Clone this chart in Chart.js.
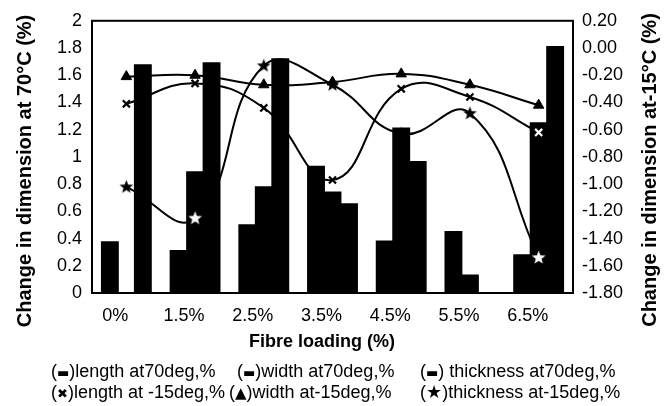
<!DOCTYPE html>
<html>
<head>
<meta charset="utf-8">
<script src="https://cdn.jsdelivr.net/npm/chart.js@4.4.1/dist/chart.umd.min.js"></script>
<style>
body { margin: 0; background: #fff; }
#wrap { position: relative; width: 668px; height: 406px; font-family: "Liberation Sans", Arial, sans-serif; }
#wrap canvas { position: absolute; left: 0; top: 0; }
.leg { position: absolute; font-size: 18px; line-height: 20px; color: #000; white-space: nowrap; }
.sym { font-family: "DejaVu Sans", sans-serif; font-size: 13px; }
.sym2 { font-family: "DejaVu Sans", sans-serif; font-size: 15px; }
.sym3 { font-family: "DejaVu Sans", sans-serif; font-size: 18px; line-height: 18px; }
</style>
</head>
<body>
<div id="wrap">
    <canvas id="myChart" width="668" height="406"></canvas>
    <div class="leg" style="left:51px; top:361px;">(<span class="sym">▬</span>)length at70deg,%</div>
    <div class="leg" style="left:237px; top:361px;">(<span class="sym">▬</span>)width at70deg,%</div>
    <div class="leg" style="left:420px; top:361px;">(<span class="sym">▬</span>) thickness at70deg,%</div>
    <div class="leg" style="left:51px; top:382px;">(<span class="sym">✖</span>)length at -15deg,%</div>
    <div class="leg" style="left:229px; top:382px;">(<span class="sym2">▲</span>)width at-15deg,%</div>
    <div class="leg" style="left:420px; top:382px;">(<span class="sym3">★</span>)thickness at-15deg,%</div>
</div>
<script>
// categories
let fibre_loading = ['0%', '1.5%', '2.5%', '3.5%', '4.5%', '5.5%', '6.5%'];

// change in dimension at 70 C (left axis, bars)
let length_70 = [0.375, 0.31, 0.50, 0.93, 0.38, 0.45, 0.28];
let width_70 = [0, 0.89, 0.78, 0.74, 1.21, 0.13, 1.25];
let thickness_70 = [1.675, 1.69, 1.72, 0.655, 0.965, 0, 1.81];

// change in dimension at -15 C (right axis, lines)
let length_m15 = [-0.41, -0.26, -0.44, -0.97, -0.30, -0.36, -0.62];
let width_m15 = [-0.21, -0.20, -0.27, -0.25, -0.19, -0.27, -0.42];
let thickness_m15 = [-1.02, -1.25, -0.13, -0.27, -0.63, -0.48, -1.54];

// markers that sit on a black bar are drawn white
let cross_white = [false, false, false, false, false, false, true];
let star_white = [false, true, false, false, false, false, true];

const font_family = '"Liberation Sans", Arial, sans-serif';

function make_star(color) {
    let c = document.createElement('canvas');
    c.width = 15;
    c.height = 15;
    let g = c.getContext('2d');
    g.fillStyle = color;
    g.beginPath();
    for (let i = 0; i < 10; i++) {
        let r = i % 2 === 0 ? 7.2 : 3.0;
        let a = -Math.PI / 2 + i * Math.PI / 5;
        let px = 7.5 + r * Math.cos(a);
        let py = 7.8 + r * Math.sin(a);
        if (i === 0) g.moveTo(px, py); else g.lineTo(px, py);
    }
    g.closePath();
    g.fill();
    return c;
}
let star_black = make_star('#000');
let star_wht = make_star('#fff');

// frame round the plot area
const frame_plugin = {
    id: 'frame',
    afterDraw(chart) {
        let ctx = chart.ctx;
        let a = chart.chartArea;
        ctx.save();
        ctx.strokeStyle = '#000';
        ctx.lineWidth = 2;
        ctx.strokeRect(a.left, a.top, a.right - a.left, a.bottom - a.top);
        ctx.restore();
    }
};

// axis titles
const titles_plugin = {
    id: 'titles',
    afterDraw(chart) {
        let ctx = chart.ctx;
        ctx.save();
        ctx.fillStyle = '#000';
        ctx.textAlign = 'center';
        ctx.textBaseline = 'middle';
        ctx.font = 'bold 20px ' + font_family;
        ctx.save();
        ctx.translate(25, 171);
        ctx.rotate(-Math.PI / 2);
        ctx.fillText('Change in dimension at 70°C (%)', 0, 0);
        ctx.restore();
        ctx.save();
        ctx.translate(650, 170);
        ctx.rotate(-Math.PI / 2);
        ctx.fillText('Change in dimension at-15°C (%)', 0, 0);
        ctx.restore();
        ctx.font = 'bold 18px ' + font_family;
        ctx.textBaseline = 'alphabetic';
        ctx.fillText('Fibre loading (%)', 322, 347);
        ctx.restore();
    }
};

let ctx = document.getElementById('myChart');
let bar_opts = {
    type: 'bar',
    backgroundColor: '#000',
    borderWidth: 0,
    inflateAmount: 0.7,
    yAxisID: 'y',
    order: 2,
    categoryPercentage: 0.72,
    barPercentage: 1.0
};
let line_opts = {
    type: 'line',
    yAxisID: 'y2',
    order: 1,
    borderColor: '#000',
    borderWidth: 2,
    tension: 0.45,
    fill: false
};

chart = new Chart(ctx, {
    type: 'bar',
    data: {
        labels: fibre_loading,
        datasets: [
            Object.assign({ label: 'length at70deg,%', data: length_70 }, bar_opts),
            Object.assign({ label: 'width at70deg,%', data: width_70 }, bar_opts),
            Object.assign({ label: 'thickness at70deg,%', data: thickness_70 }, bar_opts),
            Object.assign({
                label: 'length at -15deg,%',
                data: length_m15,
                pointStyle: 'crossRot',
                pointRadius: 5,
                pointBorderWidth: 2.2,
                pointBorderColor: cross_white.map(w => w ? '#fff' : '#000')
            }, line_opts),
            Object.assign({
                label: 'width at-15deg,%',
                data: width_m15,
                pointStyle: 'triangle',
                pointRadius: 6,
                pointBackgroundColor: '#000',
                pointBorderColor: '#000',
                pointBorderWidth: 1
            }, line_opts),
            Object.assign({
                label: 'thickness at-15deg,%',
                data: thickness_m15,
                pointStyle: star_white.map(w => w ? star_wht : star_black),
                pointRadius: 7
            }, line_opts),
        ]
    },
    options: {
        responsive: false,
        animation: false,
        events: [],
        layout: { padding: { top: 14, left: 0, right: 0, bottom: 0 } },
        plugins: {
            legend: { display: false },
            tooltip: { enabled: false },
            title: { display: false }
        },
        scales: {
            x: {
                grid: { display: false, drawTicks: false },
                border: { display: false },
                ticks: {
                    color: '#000',
                    font: { size: 18, family: font_family },
                    padding: 12,
                    labelOffset: -11,
                    maxRotation: 0,
                    autoSkip: false
                },
                afterFit: (s) => { s.height = 113; }
            },
            y: {
                position: 'left',
                min: 0,
                max: 2,
                grid: { display: false, drawTicks: false },
                border: { display: false },
                ticks: {
                    stepSize: 0.2,
                    color: '#000',
                    padding: 10,
                    font: { size: 18, family: font_family },
                    callback: (v) => String(+v.toFixed(1))
                },
                afterFit: (s) => { s.width = 92; }
            },
            y2: {
                position: 'right',
                min: -1.8,
                max: 0.2,
                grid: { display: false, drawTicks: false },
                border: { display: false },
                ticks: {
                    stepSize: 0.2,
                    color: '#000',
                    padding: 9,
                    font: { size: 18, family: font_family },
                    callback: (v) => Math.abs(v) < 1e-9 ? '0.00' : v.toFixed(2)
                },
                afterFit: (s) => { s.width = 95; }
            }
        }
    },
    plugins: [frame_plugin, titles_plugin]
});
</script>
</body>
</html>
